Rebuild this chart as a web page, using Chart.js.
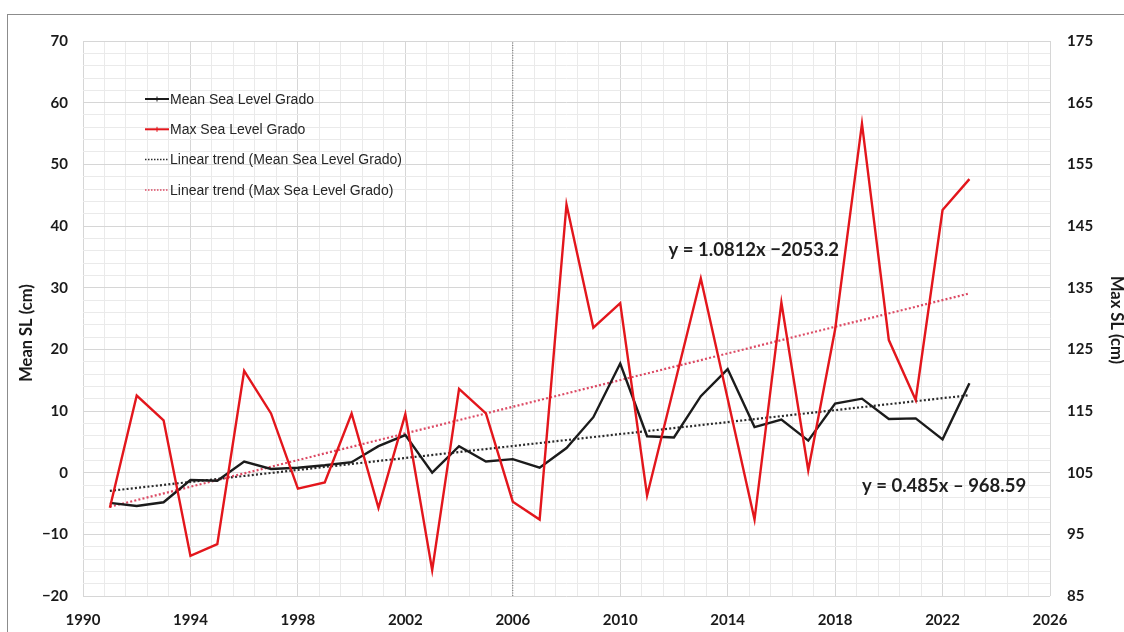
<!DOCTYPE html>
<html>
<head>
<meta charset="utf-8">
<script src="https://cdn.jsdelivr.net/npm/chart.js@4"></script>
<style>
  html, body { margin: 0; padding: 0; background: #fff; overflow: hidden; }
  #wrap { position: relative; width: 1124px; height: 632px; overflow: hidden; }
  #frame { position: absolute; left: 7px; top: 14px; width: 1200px; height: 700px;
           border-left: 1px solid #8c8c8c; border-top: 1px solid #8c8c8c; }
  canvas { position: absolute; left: 0; top: 0; }
</style>
</head>
<body>
<div id="wrap">
  <div id="frame"></div>
  <canvas id="chart" width="1124" height="632"></canvas>
</div>
<script>
// annual values, Grado tide gauge
const years = [1991, 1992, 1993, 1994, 1995, 1996, 1997, 1998, 1999, 2000, 2001,
  2002, 2003, 2004, 2005, 2006, 2007, 2008, 2009, 2010, 2011, 2012,
  2013, 2014, 2015, 2016, 2017, 2018, 2019, 2020, 2021, 2022, 2023];

// mean sea level (cm), left axis
const meanSL = [-4.9, -5.4, -4.8, -1.2, -1.3, 1.8, 0.6, 0.8, 1.2, 1.7, 4.3,
  6.1, 0.0, 4.3, 1.8, 2.2, 0.8, 4.0, 9.0, 17.7, 5.9, 5.7,
  12.4, 16.8, 7.4, 8.6, 5.2, 11.2, 12.0, 8.7, 8.8, 5.4, 14.5];

// max sea level (cm), right axis
const maxSL = [99.3, 117.5, 113.5, 91.5, 93.4, 121.5, 114.6, 102.4, 103.4, 114.6, 99.3,
  114.5, 89.2, 118.6, 114.6, 100.3, 97.4, 148.5, 128.5, 132.5, 101.3, 118.9,
  136.5, 117.0, 97.4, 132.6, 105.4, 128.2, 161.6, 126.5, 116.8, 147.6, 152.6];

// linear fits y = a*x + b
const trendYears = [1991, 2023];
const meanFit = { a: 0.485, b: -968.59 };
const maxFit = { a: 1.0812, b: -2053.2 };

const splitYear = 2006;

const legendLabels = [
  "Mean Sea Level Grado",
  "Max Sea Level Grado",
  "Linear trend (Mean Sea Level Grado)",
  "Linear trend (Max Sea Level Grado)"
];

const RED = "#e3161c";
const BLACK = "#1b1b1b";
const RED_DOT = "#dc4a64";
const BLACK_DOT = "#2a2a2a";

const pts = (xs, ys) => xs.map((x, i) => ({ x: x, y: ys[i] }));
const fitLine = f => trendYears.map(x => ({ x: x, y: f.a * x + f.b }));
const minus = v => String(v).replace("-", "\u2212");

const tickFont = { family: "Lato", size: 15, weight: "bold" };

// legend, axis titles and fit equations drawn over the plot
const overlay = {
  id: "overlay",
  afterDraw(chart) {
    const ctx = chart.ctx;
    const sx = chart.scales.x, yl = chart.scales.y;
    ctx.save();

    const styles = [
      { color: BLACK, dash: [], w: 2, mark: true },
      { color: RED, dash: [], w: 2, mark: true },
      { color: BLACK_DOT, dash: [1.5, 1.5], w: 1.5 },
      { color: RED_DOT, dash: [1.5, 1.5], w: 1.5 }
    ];
    ctx.font = "14px 'Liberation Sans', Arial, sans-serif";
    ctx.textBaseline = "middle";
    ctx.fillStyle = "#262626";
    legendLabels.forEach((txt, i) => {
      const y = 99 + i * 30.3;
      const s = styles[i];
      ctx.strokeStyle = s.color;
      ctx.lineWidth = s.w;
      ctx.setLineDash(s.dash);
      ctx.beginPath();
      ctx.moveTo(145, y);
      ctx.lineTo(169, y);
      ctx.stroke();
      if (s.mark) {
        ctx.setLineDash([]);
        ctx.lineWidth = 1;
        ctx.beginPath();
        ctx.moveTo(157, y - 2.5);
        ctx.lineTo(157, y + 2.5);
        ctx.stroke();
      }
      ctx.fillText(txt, 170, y + 1);
    });

    // axis titles
    ctx.font = "bold 16.5px Lato, sans-serif";
    ctx.fillStyle = "#1a1a1a";
    ctx.textAlign = "center";
    ctx.save();
    ctx.translate(27, 333);
    ctx.rotate(-Math.PI / 2);
    ctx.fillText("Mean SL (cm)", 0, 0);
    ctx.restore();
    ctx.save();
    ctx.translate(1116, 320);
    ctx.rotate(Math.PI / 2);
    ctx.fillText("Max SL (cm)", 0, 0);
    ctx.restore();

    ctx.font = "bold 18.5px Lato, sans-serif";
    ctx.fillStyle = "#1e1e1e";
    ctx.textAlign = "left";
    ctx.fillText("y = 1.0812x \u22122053.2", sx.getPixelForValue(2011.8), yl.getPixelForValue(36.1));
    ctx.fillText("y = 0.485x \u2013 968.59", sx.getPixelForValue(2019.0), yl.getPixelForValue(-2.2));
    ctx.restore();
  }
};

new Chart(document.getElementById("chart"), {
  type: "line",
  data: {
    datasets: [
      { label: legendLabels[1], data: pts(years, maxSL), yAxisID: "yR",
        borderColor: RED, borderWidth: 2.4, pointRadius: 0, tension: 0 },
      { label: legendLabels[0], data: pts(years, meanSL), yAxisID: "y",
        borderColor: BLACK, borderWidth: 2.4, pointRadius: 0, tension: 0 },
      { label: legendLabels[3], data: fitLine(maxFit), yAxisID: "yR",
        borderColor: RED_DOT, borderWidth: 2.2, borderDash: [2, 2.2], pointRadius: 0 },
      { label: legendLabels[2], data: fitLine(meanFit), yAxisID: "y",
        borderColor: BLACK_DOT, borderWidth: 2.2, borderDash: [2, 2.2], pointRadius: 0 },
      { label: "split", data: [{ x: splitYear, y: -20 }, { x: splitYear, y: 70 }], yAxisID: "y",
        borderColor: "#6e6e6e", borderWidth: 1, borderDash: [1, 1.5], pointRadius: 0 }
    ]
  },
  options: {
    responsive: false,
    animation: false,
    devicePixelRatio: 1,
    layout: { padding: { top: 41, left: 0, right: 0, bottom: 0 } },
    plugins: { legend: { display: false }, tooltip: { enabled: false } },
    scales: {
      x: {
        type: "linear", position: "bottom", min: 1990, max: 2026,
        ticks: { stepSize: 4, padding: 15, color: "#1a1a1a", font: tickFont, callback: v => String(v) },
        grid: { color: "#d6d6d6", drawTicks: false },
        border: { display: false },
        afterFit: s => { s.height = 36; }
      },
      xMinor: {
        type: "linear", position: "bottom", min: 1990, max: 2026,
        ticks: { stepSize: 0.8, display: false },
        grid: {
          drawTicks: false,
          color: c => Math.abs((c.tick.value - 1990) / 4 - Math.round((c.tick.value - 1990) / 4)) < 0.01 ? "rgba(0,0,0,0)" : "#eaeaea"
        },
        border: { display: false },
        afterFit: s => { s.height = 0; }
      },
      y: {
        type: "linear", position: "left", min: -20, max: 70,
        ticks: { stepSize: 10, padding: 15, color: "#1a1a1a", font: tickFont, callback: v => minus(v) },
        grid: { color: "#d6d6d6", drawTicks: false },
        border: { display: false },
        afterFit: s => { s.width = 83; }
      },
      yMinor: {
        type: "linear", position: "left", min: -20, max: 70,
        ticks: { stepSize: 2, display: false },
        grid: {
          drawTicks: false,
          color: c => Math.abs(c.tick.value / 10 - Math.round(c.tick.value / 10)) < 0.01 ? "rgba(0,0,0,0)" : "#eaeaea"
        },
        border: { display: false },
        afterFit: s => { s.width = 0; }
      },
      yR: {
        type: "linear", position: "right", min: 85, max: 175,
        ticks: { stepSize: 10, padding: 17, color: "#1a1a1a", font: tickFont },
        grid: { display: false, drawTicks: false },
        border: { display: false },
        afterFit: s => { s.width = 74; }
      }
    }
  },
  plugins: [overlay]
});
</script>
</body>
</html>
